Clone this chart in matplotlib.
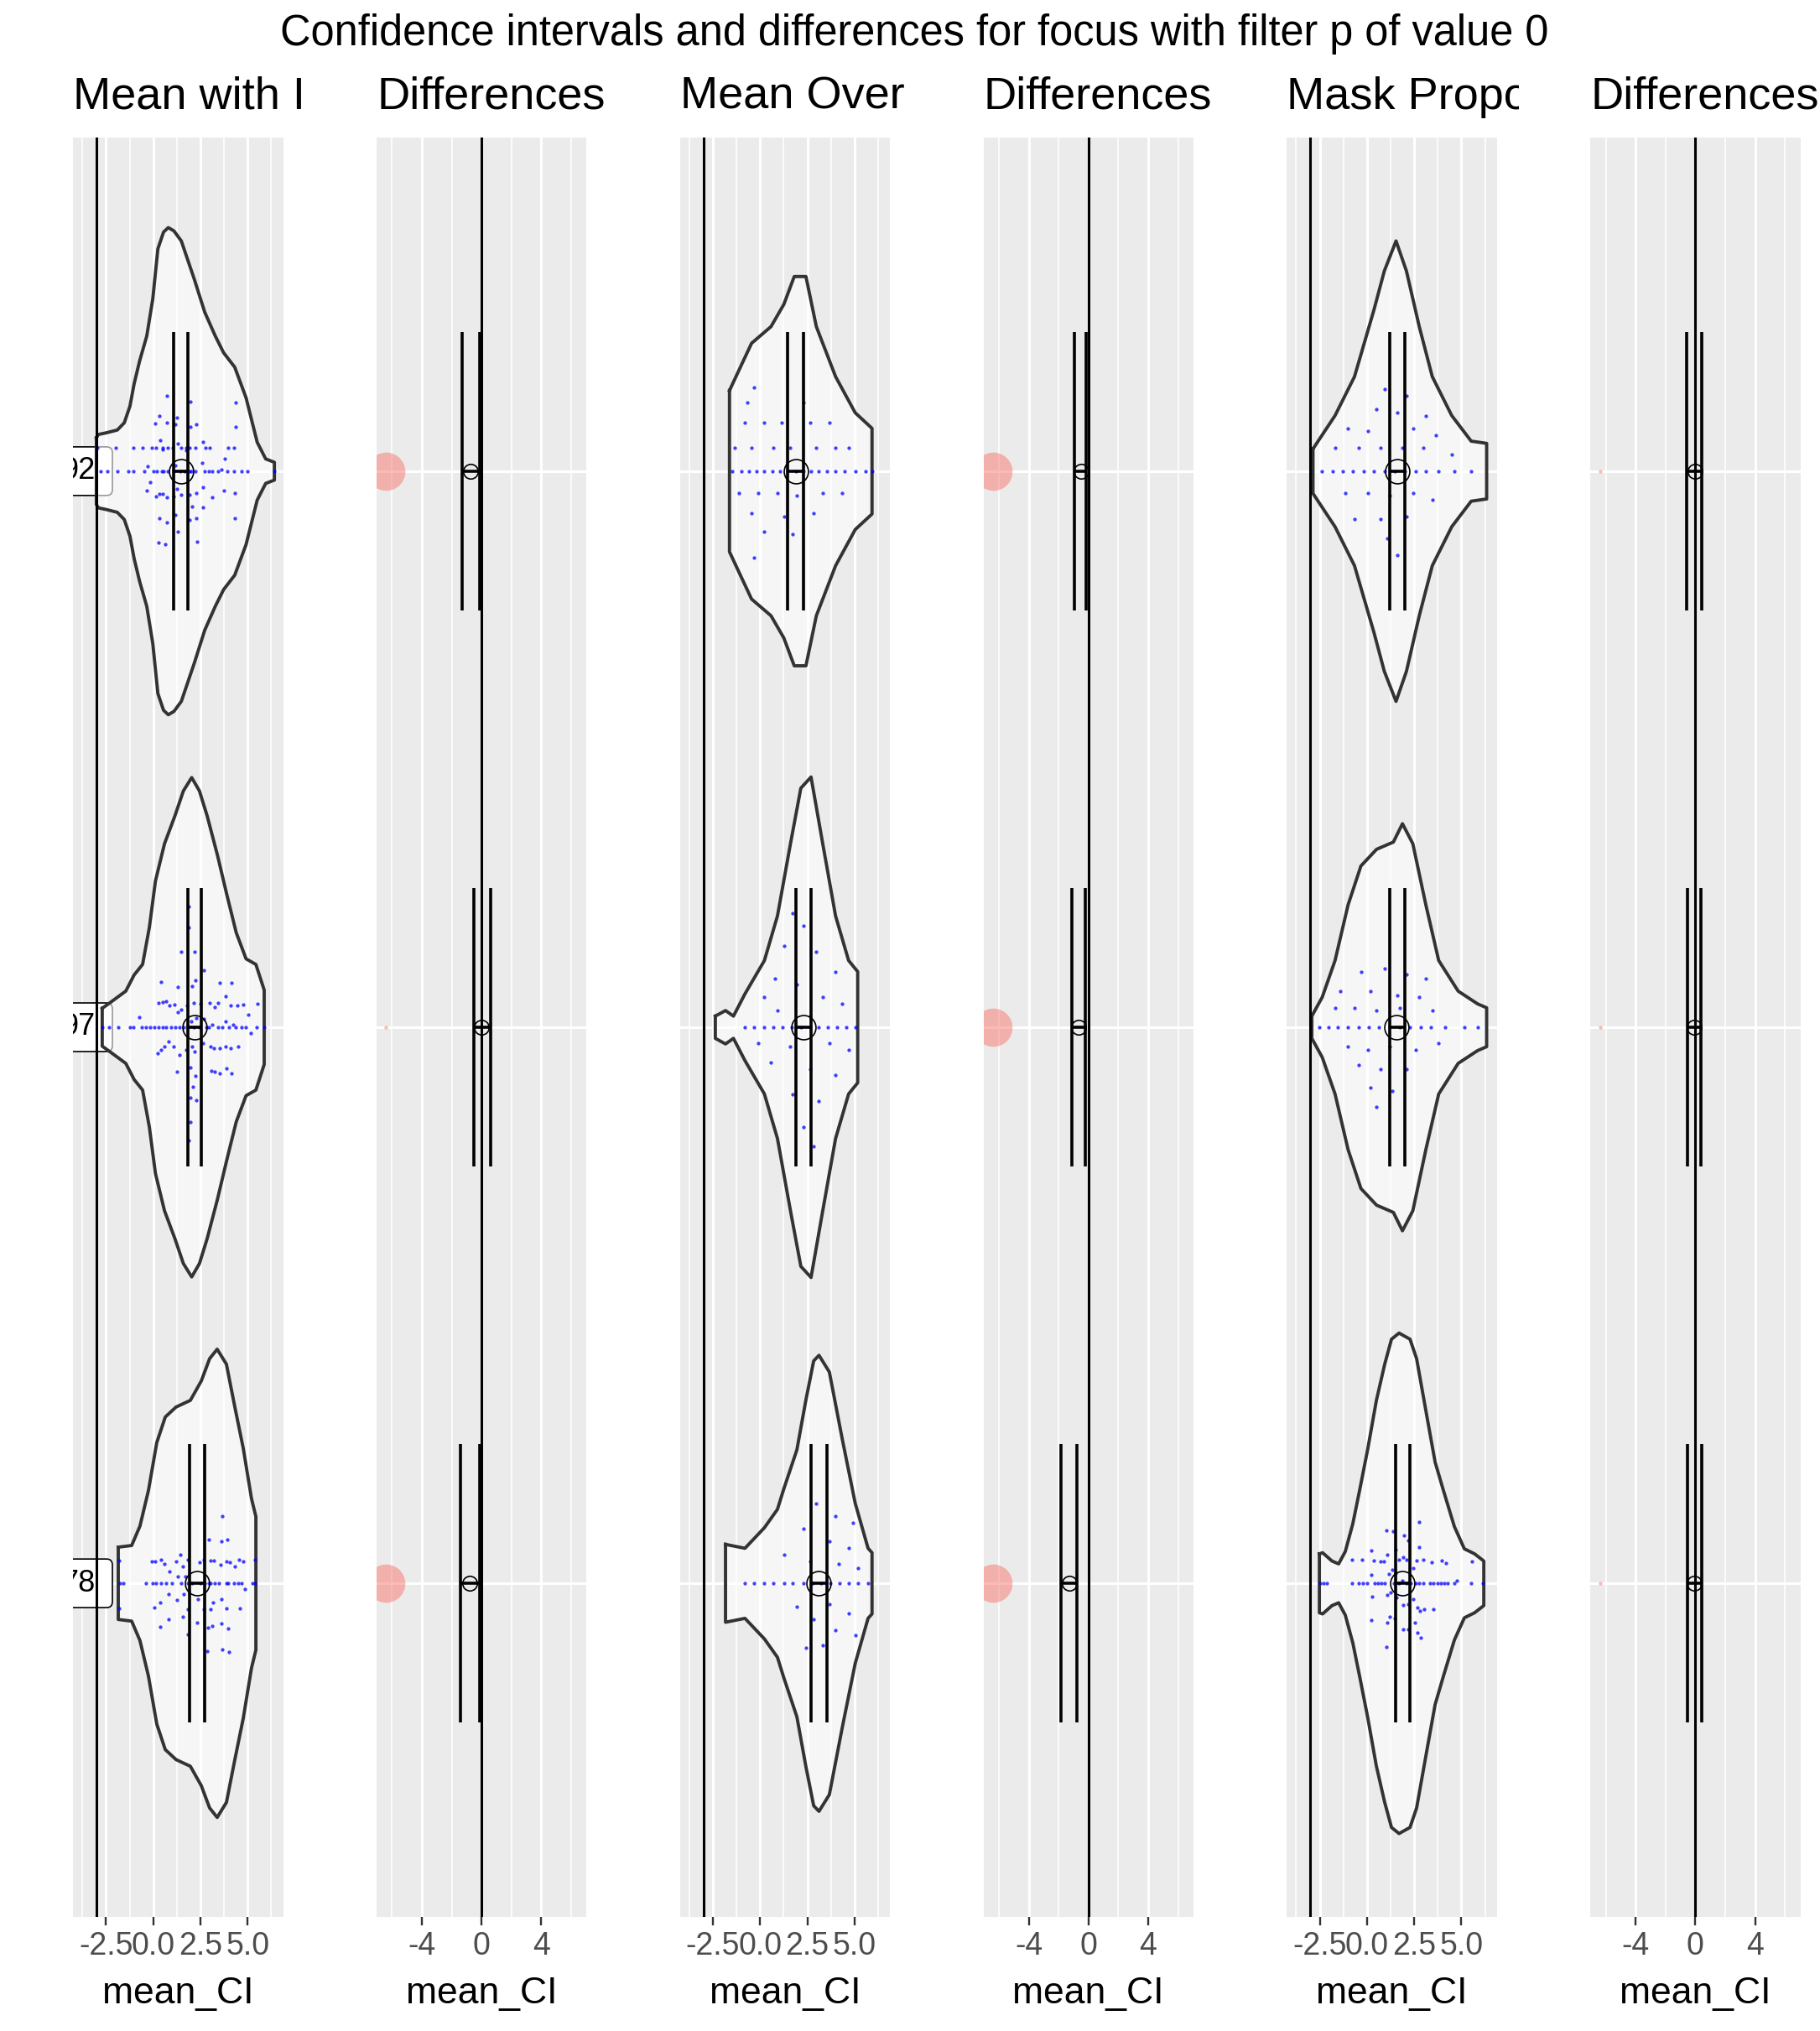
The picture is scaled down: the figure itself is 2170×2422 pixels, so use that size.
import numpy as np
import matplotlib
matplotlib.use("Agg")
import matplotlib.pyplot as plt
from matplotlib.patches import FancyBboxPatch
from matplotlib.transforms import Bbox, TransformedBbox

plt.rcParams['font.family'] = ['Liberation Sans', 'DejaVu Sans']

W, H, DPI = 2170, 2422, 200

title = "Confidence intervals and differences for focus with filter p of value 0"
panel_titles = ["Mean with I", "Differences", "Mean Over", "Differences", "Mask Propo", "Differences"]
row_pos = [3, 2, 1]
row_labels = ["92", "97", "78"]
ref_line = -3.0
label_x = -3.95
diff_point_x = -6.39

mean_ticks = [-2.5, 0.0, 2.5, 5.0]
mean_ticklabels = ["-2.5", "0.0", "2.5", "5.0"]
mean_minor = [-3.75, -1.25, 1.25, 3.75, 6.25]
mean_xlim = (-4.24, 6.88)
diff_ticks = [-4, 0, 4]
diff_ticklabels = ["-4", "0", "4"]
diff_minor = [-6, -2, 2, 6]
diff_xlim = (-7.03, 7.03)

# ---- "Mean with I" ----
I_violin_x = [
    [-3.01, -2.9, -2.48, -1.90, -1.53, -1.23, -1.01, -0.72, -0.34, -0.02, 0.25, 0.55,
     0.80, 1.10, 1.49, 2.18, 2.73, 3.29, 3.73, 4.32, 4.92, 5.51, 5.96, 6.42],
    [-2.70, -2.25, -1.45, -1.01, -0.56, -0.20, 0.12, 0.60, 1.15, 1.60, 2.04, 2.45,
     2.86, 3.40, 3.89, 4.40, 4.92, 5.44, 5.88],
    [-1.85, -1.14, -0.70, -0.25, 0.19, 0.64, 1.21, 1.97, 2.55, 2.99, 3.39, 3.88,
     4.32, 4.77, 5.21, 5.44],
]
I_violin_w = [
    [0.060, 0.066, 0.069, 0.074, 0.087, 0.117, 0.157, 0.198, 0.243, 0.310, 0.400, 0.430,
     0.438, 0.432, 0.414, 0.345, 0.286, 0.243, 0.213, 0.187, 0.132, 0.052, 0.022, 0.016],
    [0.034, 0.045, 0.065, 0.094, 0.113, 0.180, 0.263, 0.330, 0.380, 0.425, 0.449, 0.425,
     0.380, 0.310, 0.240, 0.170, 0.123, 0.113, 0.067],
    [0.065, 0.068, 0.103, 0.167, 0.253, 0.299, 0.317, 0.329, 0.364, 0.404, 0.421, 0.394,
     0.318, 0.243, 0.152, 0.120],
]
I_line_x = [
    [-2.79, -2.42, -1.90, -1.31, -1.03, -0.49, 0.0, 0.21, 0.44, 0.55, 0.77, 1.07, 1.44,
     1.66, 1.91, 2.03, 2.25, 2.74, 2.96, 3.14, 3.44, 3.93, 4.26, 4.70, 5.00, 6.40],
    [-2.68, -2.33, -1.84, -1.24, -1.04, -0.60, -0.40, -0.15, 0.07, 0.29, 0.52, 0.69, 0.96,
     1.17, 1.40, 1.63, 1.85, 2.16, 2.47, 2.80, 2.96, 3.45, 3.67, 4.03, 4.38, 4.70, 4.92,
     5.50, 5.86],
    [-1.78, -1.57, -0.37, -0.03, 0.16, 0.43, 0.69, 1.00, 1.49, 1.85, 2.07, 2.51, 2.74,
     2.96, 3.05, 3.28, 3.50, 3.86, 3.99, 4.26, 4.52, 4.70, 5.24, 5.41],
]
I_dots = [
    [(-2.98, 0.042), (-1.98, 0.042), (-1.05, 0.042), (-0.57, 0.042), (-0.08, 0.042),
     (0.16, 0.042), (0.52, 0.042), (0.77, 0.042), (1.02, 0.042), (1.47, 0.042),
     (1.73, 0.042), (1.91, 0.042), (2.25, 0.042), (2.78, 0.042), (2.99, 0.042),
     (3.98, 0.042), (4.30, 0.042),
     (0.74, 0.135), (1.97, 0.125), (4.38, 0.123), (0.34, 0.100), (1.27, 0.096),
     (0.12, 0.086), (0.74, 0.088), (1.15, 0.084), (1.97, 0.080), (2.29, 0.084),
     (4.38, 0.080), (0.38, 0.056), (1.29, 0.050), (2.65, 0.052), (0.52, 0.039),
     (1.73, 0.038), (3.78, 0.022), (2.60, 0.015), (3.63, 0.003), (-0.28, 0.009),
     (1.17, 0.011), (-0.16, -0.020), (-0.34, -0.035), (1.27, -0.032), (2.62, -0.029),
     (3.73, -0.035), (4.34, -0.039), (0.16, -0.045), (0.34, -0.041), (0.52, -0.041),
     (0.74, -0.047), (1.09, -0.046), (1.49, -0.043), (1.93, -0.042), (2.29, -0.039),
     (3.14, -0.047), (2.07, -0.063), (2.64, -0.065), (0.34, -0.084), (0.74, -0.092),
     (1.18, -0.078), (1.92, -0.087), (2.29, -0.084), (4.34, -0.084), (1.32, -0.109),
     (0.29, -0.129), (0.65, -0.131), (2.34, -0.127)],
    [(1.90, 0.217), (1.90, 0.180), (1.49, 0.135), (2.18, 0.135),
     (2.69, 0.103), (0.43, 0.081), (3.54, 0.080), (4.16, 0.080), (2.25, 0.084),
     (2.07, 0.074), (1.32, 0.072), (3.85, 0.056), (0.29, 0.044), (0.52, 0.045),
     (0.69, 0.047), (0.87, 0.039), (1.14, 0.040), (1.80, 0.039), (2.16, 0.044),
     (2.51, 0.042), (3.00, 0.044), (3.28, 0.036), (3.45, 0.044), (4.12, 0.039),
     (4.47, 0.039), (4.78, 0.040), (5.54, 0.042), (1.49, 0.032), (1.32, 0.027),
     (5.05, 0.023), (-0.73, 0.018), (2.29, 0.017), (2.03, 0.011), (3.85, 0.011),
     (3.14, 0.005), (4.22, 0.005), (2.69, 0.015), (5.17, -0.011), (2.65, -0.029),
     (0.83, -0.025), (0.61, -0.035), (1.09, -0.035), (0.43, -0.041), (0.25, -0.046),
     (2.07, -0.034), (1.76, -0.040), (2.20, -0.044), (3.05, -0.034), (3.23, -0.037),
     (3.54, -0.038), (3.85, -0.035), (4.12, -0.038), (4.52, -0.034), (1.40, -0.050),
     (1.27, -0.080), (1.99, -0.072), (2.25, -0.087), (3.10, -0.078), (3.28, -0.080),
     (3.54, -0.083), (3.90, -0.074), (4.16, -0.083), (2.12, -0.107), (1.99, -0.127),
     (2.29, -0.131), (1.99, -0.170), (1.90, -0.203)],
    [(3.67, 0.121), (2.96, 0.078), (3.63, 0.075), (3.94, 0.079), (1.45, 0.051),
     (-1.79, 0.041), (-0.06, 0.040), (0.12, 0.040), (0.43, 0.043), (0.61, 0.035),
     (1.23, 0.040), (1.85, 0.043), (2.47, 0.038), (2.69, 0.043), (3.05, 0.041),
     (3.23, 0.041), (3.58, 0.034), (3.90, 0.040), (4.07, 0.038), (4.34, 0.030),
     (4.56, 0.043), (4.78, 0.040), (5.41, 0.043), (0.87, 0.021), (1.58, 0.030),
     (1.32, 0.012), (1.72, 0.013), (4.88, -0.011), (0.83, -0.020), (1.63, -0.020),
     (1.27, -0.030), (2.38, -0.029), (3.63, -0.029), (3.18, -0.035), (0.38, -0.034),
     (0.07, -0.044), (-1.79, -0.045), (1.85, -0.046), (2.69, -0.046), (3.05, -0.046),
     (3.90, -0.045), (4.60, -0.045), (1.58, -0.060), (0.83, -0.065), (0.38, -0.078),
     (2.34, -0.071), (2.91, -0.079), (3.14, -0.076), (3.63, -0.072), (3.99, -0.081),
     (1.85, -0.092), (2.87, -0.122), (3.67, -0.119), (4.03, -0.124)],
]
I_ci_low = [1.07, 1.84, 1.92]
I_ci_high = [1.84, 2.55, 2.72]
I_mean = [1.48, 2.18, 2.32]
I_diff_low = [-1.30, -0.54, -1.41]
I_diff_high = [-0.12, 0.59, -0.10]
I_diff_mean = [-0.74, -0.02, -0.80]
I_diff_sig = [True, False, True]

# ---- "Mean Over" ----
O_violin_x = [
    [-1.62, -1.14, -0.45, 0.58, 1.26, 1.81, 2.43, 2.98, 4.00, 5.04, 5.93],
    [-2.37, -1.83, -1.41, -0.80, 0.23, 0.92, 1.61, 2.16, 2.70, 3.32, 4.00, 4.69, 5.17],
    [-1.83, -0.80, 0.23, 0.92, 1.26, 1.95, 2.43, 2.84, 3.12, 3.67, 4.35, 5.04, 5.72, 5.93],
]
O_violin_w = [
    [0.145, 0.18, 0.23, 0.26, 0.30, 0.35, 0.35, 0.26, 0.17, 0.105, 0.077],
    [0.02, 0.03, 0.02, 0.06, 0.12, 0.20, 0.33, 0.43, 0.45, 0.33, 0.20, 0.12, 0.10],
    [0.07, 0.063, 0.10, 0.133, 0.17, 0.24, 0.33, 0.40, 0.41, 0.38, 0.26, 0.144, 0.063, 0.055],
]
O_line_x = [
    [-1.48, -1.00, -0.59, -0.18, 0.23, 0.65, 1.06, 1.47, 1.88, 2.29, 2.70, 3.12, 3.53,
     4.00, 4.49, 5.04, 5.59, 5.93],
    [-0.80, -0.32, 0.23, 0.71, 1.19, 1.67, 2.16, 2.64, 3.12, 3.60, 4.08, 4.56, 5.04],
    [-0.80, -0.32, 0.23, 0.71, 1.26, 1.74, 2.29, 2.77, 3.25, 3.73, 4.22, 4.70, 5.18, 5.72],
]
O_dots = [
    [(-0.32, 0.151), (-0.66, 0.123), (2.29, 0.123), (-0.80, 0.088), (0.23, 0.088),
     (1.13, 0.088), (2.64, 0.088), (3.67, 0.088), (-1.35, 0.042), (-0.45, 0.042),
     (0.71, 0.042), (1.61, 0.042), (2.98, 0.042), (4.00, 0.042), (4.69, 0.042),
     (-1.14, -0.040), (-0.11, -0.040), (0.92, -0.040), (1.95, -0.044), (3.32, -0.040),
     (4.35, -0.040), (-0.45, -0.075), (1.26, -0.081), (2.84, -0.075), (0.23, -0.109),
     (1.74, -0.114), (-0.32, -0.156)],
    [(1.74, 0.205), (2.29, 0.182), (1.26, 0.147), (2.98, 0.135), (4.00, 0.100),
     (0.78, 0.088), (1.95, 0.077), (0.23, 0.054), (3.32, 0.054), (4.35, 0.042),
     (0.92, 0.030), (2.64, 0.019), (-0.11, -0.028), (1.61, -0.035), (3.67, -0.028),
     (4.69, -0.040), (0.58, -0.063), (2.64, -0.075), (4.00, -0.086), (1.74, -0.121),
     (3.12, -0.133), (2.29, -0.180), (2.84, -0.214)],
    [(2.98, 0.144), (4.00, 0.121), (4.90, 0.109), (2.29, 0.098), (3.67, 0.075),
     (4.69, 0.063), (1.26, 0.051), (2.64, 0.040), (4.15, 0.035), (5.18, 0.028),
     (1.95, -0.042), (3.67, -0.037), (4.69, -0.054), (2.84, -0.065), (4.00, -0.084),
     (5.04, -0.093), (3.32, -0.112), (2.43, -0.116)],
]
O_ci_low = [1.47, 1.88, 2.70]
O_ci_high = [2.30, 2.70, 3.53]
O_mean = [1.88, 2.29, 3.12]
O_diff_low = [-0.95, -1.10, -1.82]
O_diff_high = [-0.16, -0.23, -0.77]
O_diff_mean = [-0.51, -0.65, -1.29]
O_diff_sig = [True, True, True]

# ---- "Mask Propo" ----
P_violin_x = [
    [-2.86, -1.69, -0.66, 0.37, 0.92, 1.54, 2.09, 2.77, 3.46, 4.49, 5.52, 6.34],
    [-2.92, -2.37, -1.69, -1.00, -0.32, 0.51, 1.40, 1.88, 2.43, 3.12, 3.80, 4.83, 5.86, 6.34],
    [-2.52, -2.35, -1.85, -1.50, -1.15, -0.75, -0.39, 0.05, 0.50, 0.94, 1.30, 1.70, 2.28,
     2.63, 3.16, 3.61, 4.05, 4.63, 5.16, 5.70, 6.19],
]
P_violin_w = [
    [0.04, 0.10, 0.17, 0.29, 0.36, 0.414, 0.36, 0.26, 0.17, 0.10, 0.054, 0.05],
    [0.02, 0.054, 0.12, 0.22, 0.29, 0.32, 0.333, 0.366, 0.33, 0.22, 0.12, 0.065, 0.042, 0.035],
    [0.053, 0.055, 0.040, 0.035, 0.057, 0.107, 0.167, 0.243, 0.329, 0.394, 0.439, 0.45, 0.439,
     0.404, 0.303, 0.218, 0.167, 0.102, 0.062, 0.053, 0.04],
]
P_line_x = [
    [-2.37, -1.83, -1.28, -0.73, -0.18, 0.37, 0.92, 1.47, 2.02, 2.57, 3.12, 3.80, 4.63, 5.52],
    [-2.51, -2.03, -1.55, -1.00, -0.45, 0.10, 0.65, 1.19, 1.74, 2.29, 2.84, 3.39, 4.15,
     5.18, 5.87],
    [-2.47, -2.29, -2.11, -0.78, -0.42, -0.20, 0.02, 0.42, 0.60, 0.78, 0.96, 1.44, 1.71,
     2.11, 2.33, 2.60, 2.78, 3.00, 3.36, 3.53, 3.76, 3.93, 4.11, 4.29, 4.64, 5.53, 6.15],
]
P_dots = [
    [(0.92, 0.147), (2.09, 0.135), (0.51, 0.112), (1.61, 0.105), (3.12, 0.100),
     (-1.00, 0.077), (0.03, 0.072), (2.43, 0.077), (3.67, 0.065), (-1.69, 0.042),
     (-0.45, 0.042), (0.71, 0.042), (1.88, 0.042), (2.98, 0.042), (4.49, 0.030),
     (-1.14, -0.040), (0.03, -0.040), (1.19, -0.044), (2.43, -0.040), (3.46, -0.051),
     (-0.66, -0.086), (0.71, -0.086), (2.09, -0.081), (1.06, -0.121), (1.61, -0.151)],
    [(-0.32, 0.100), (0.92, 0.105), (2.09, 0.095), (3.12, 0.088), (-1.41, 0.065),
     (0.17, 0.065), (1.61, 0.058), (2.77, 0.054), (-1.69, 0.035), (-0.66, 0.035),
     (0.51, 0.030), (1.74, 0.035), (3.46, 0.030), (-1.00, -0.035), (0.03, -0.040),
     (1.19, -0.035), (2.57, -0.040), (3.80, -0.028), (-0.45, -0.068), (0.71, -0.075),
     (2.09, -0.075), (0.17, -0.109), (1.33, -0.114), (0.51, -0.144)],
    [(2.78, 0.110), (1.04, 0.095), (1.40, 0.094), (1.98, 0.086), (2.20, 0.077),
     (2.78, 0.065), (0.24, 0.059), (1.52, 0.060), (1.09, 0.051), (1.93, 0.047),
     (-0.78, 0.043), (-0.24, 0.043), (0.38, 0.041), (0.73, 0.040), (0.91, 0.040),
     (1.71, 0.043), (2.11, 0.043), (2.64, 0.041), (3.00, 0.043), (3.44, 0.038),
     (3.98, 0.041), (4.20, 0.037), (5.58, 0.040), (2.47, 0.027), (1.36, 0.024),
     (1.18, 0.017), (0.24, 0.016), (1.53, 0.019), (1.89, 0.005), (4.78, 0.005),
     (1.27, -0.017), (1.09, -0.021), (0.29, -0.024), (1.58, -0.025), (2.47, -0.028),
     (1.93, -0.039), (2.20, -0.038), (2.69, -0.044), (3.04, -0.046), (3.53, -0.047),
     (2.82, -0.050), (1.22, -0.060), (1.49, -0.063), (0.24, -0.066), (1.09, -0.071),
     (2.56, -0.071), (1.93, -0.083), (2.20, -0.083), (2.69, -0.089), (2.87, -0.098),
     (1.04, -0.115)],
]
P_ci_low = [1.19, 1.19, 1.51]
P_ci_high = [2.02, 2.02, 2.28]
P_mean = [1.61, 1.54, 1.86]
P_diff_low = [-0.56, -0.52, -0.52]
P_diff_high = [0.45, 0.35, 0.43]
P_diff_mean = [0.0, -0.09, -0.09]
P_diff_sig = [False, False, False]


fig = plt.figure(figsize=(W / DPI, H / DPI), dpi=DPI)
fig.text(1090 / W, 1 - 54 / H, title, ha='center', va='baseline', fontsize=18.2)


def make_axes(i, xlim, ticks, ticklabels, minor):
    left = (87.2 + 361.8 * i) / W
    width = 250.3 / W
    ax = fig.add_axes([left, 1 - 2286 / H, width, 2122 / H])
    ax.set_facecolor('#EBEBEB')
    for s in ax.spines.values():
        s.set_visible(False)
    ax.set_xlim(xlim)
    ax.set_ylim(0.4, 3.6)
    ax.set_xticks(ticks)
    ax.set_xticklabels(ticklabels)
    ax.set_xticks(minor, minor=True)
    ax.set_yticks(row_pos)
    ax.set_yticklabels([])
    ax.tick_params(axis='y', length=0)
    ax.tick_params(axis='x', which='major', length=3.6, width=0.85, color='#333333',
                   labelcolor='#4D4D4D', labelsize=13.5, pad=2.5)
    ax.tick_params(axis='x', which='minor', length=0)
    ax.grid(which='major', color='white', lw=1.1)
    ax.grid(which='minor', axis='x', color='white', lw=0.6)
    ax.set_axisbelow(True)
    ax.set_xlabel('mean_CI', fontsize=16, labelpad=6.5)
    t = fig.text(left, 1 - 130 / H, panel_titles[i], fontsize=19.5, ha='left', va='baseline')
    t.set_clip_box(TransformedBbox(Bbox([[left, 0], [left + width + 26 / W, 1]]), fig.transFigure))
    return ax


def errorbar(ax, y, lo, hi, mu, ms):
    ax.hlines(y, lo, hi, color='black', lw=1.3, zorder=4)
    ax.vlines([lo, hi], y - 0.25, y + 0.25, color='black', lw=1.3, zorder=4)
    ax.plot(mu, y, 'o', ms=ms, mfc='none', mec='black', mew=0.6, zorder=5)


def mean_panel(i, vx, vw, line_x, dots, lo, hi, mu, labelled):
    ax = make_axes(i, mean_xlim, mean_ticks, mean_ticklabels, mean_minor)
    ax.axvline(ref_line, color='black', lw=1.1, zorder=3.5)
    for k, y in enumerate(row_pos):
        if labelled:
            box = FancyBboxPatch((label_x - 1.38, y - 0.0437), 3.17, 0.0874,
                                 boxstyle='round,pad=0,rounding_size=0.31',
                                 mutation_aspect=22.5 / 663, fc='white', ec='black',
                                 lw=0.6, zorder=1)
            ax.add_patch(box)
            ax.text(label_x, y, row_labels[k], ha='center', va='center', fontsize=13,
                    zorder=1.5, clip_on=True)
        x = np.asarray(vx[k])
        w = np.asarray(vw[k])
        ax.fill_between(x, y - w, y + w, facecolor='white', alpha=0.6, lw=0, zorder=2)
        ax.plot(np.r_[x, x[::-1], x[:1]], np.r_[y + w, (y - w)[::-1], y + w[:1]],
                color='#333333', lw=1.4, zorder=2.5, solid_joinstyle='round')
        ax.scatter(line_x[k], [y] * len(line_x[k]), s=2.4, color='blue', alpha=0.75,
                   lw=0, zorder=3)
        dx = [d[0] for d in dots[k]]
        dy = [y + d[1] for d in dots[k]]
        ax.scatter(dx, dy, s=2.4, color='blue', alpha=0.75, lw=0, zorder=3)
        errorbar(ax, y, lo[k], hi[k], mu[k], 10.4)


def diff_panel(i, lo, hi, mu, sig):
    ax = make_axes(i, diff_xlim, diff_ticks, diff_ticklabels, diff_minor)
    ax.axvline(0, color='black', lw=1.1, zorder=3)
    for k, y in enumerate(row_pos):
        ax.scatter([diff_point_x], [y], s=270 if sig[k] else 2.5, color='#F8766D',
                   alpha=0.5, lw=0, zorder=2)
        errorbar(ax, y, lo[k], hi[k], mu[k], 6.3)


mean_panel(0, I_violin_x, I_violin_w, I_line_x, I_dots, I_ci_low, I_ci_high, I_mean, True)
diff_panel(1, I_diff_low, I_diff_high, I_diff_mean, I_diff_sig)
mean_panel(2, O_violin_x, O_violin_w, O_line_x, O_dots, O_ci_low, O_ci_high, O_mean, False)
diff_panel(3, O_diff_low, O_diff_high, O_diff_mean, O_diff_sig)
mean_panel(4, P_violin_x, P_violin_w, P_line_x, P_dots, P_ci_low, P_ci_high, P_mean, False)
diff_panel(5, P_diff_low, P_diff_high, P_diff_mean, P_diff_sig)

fig.savefig('out.png', dpi=DPI)
